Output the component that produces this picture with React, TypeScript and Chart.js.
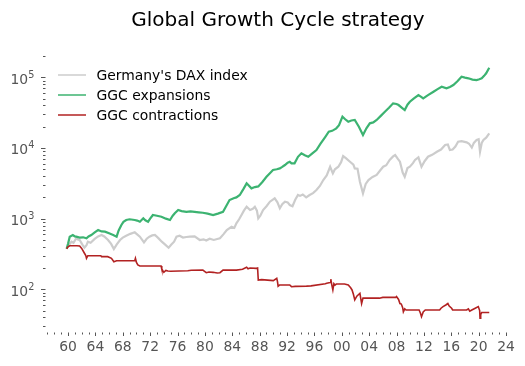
import React, { useEffect, useRef } from 'react';
import { Chart, registerables } from 'chart.js';

Chart.register(...registerables);

const TITLE = 'Global Growth Cycle strategy';
const SERIES_NAMES = ["Germany's DAX index", 'GGC expansions', 'GGC contractions'];
const SERIES_COLORS = ['#cccccc', '#3cb371', '#b22222'];

const X_MIN = 1956.71;
const X_MAX = 2024.64;
const Y_MIN = 24.5;
const Y_MAX = 2.07e5;

const X_LABEL_YEARS = [1960, 1964, 1968, 1972, 1976, 1980, 1984, 1988, 1992, 1996, 2000, 2004, 2008, 2012, 2016, 2020, 2024];
const X_LABELS = ['60', '64', '68', '72', '76', '80', '84', '88', '92', '96', '00', '04', '08', '12', '16', '20', '24'];
const Y_LABEL_VALUES = [100, 1000, 10000, 100000];
const Y_LABEL_EXPS = ['2', '3', '4', '5'];

const daxYears = [
  1959.8, 1960.1, 1960.5, 1960.8, 1961.2, 1961.5, 1961.7, 1962.1, 1962.4, 1962.7, 1962.9, 1963.3, 1963.9, 1964.4, 1964.9,
  1965.3, 1965.85, 1966.3, 1966.7, 1967.1, 1967.6, 1968.0, 1968.5, 1969.1, 1969.75, 1970.1, 1970.5, 1971.1, 1971.5, 1971.9,
  1972.3, 1972.7, 1973.2, 1973.7, 1974.2, 1974.7, 1975.1, 1975.5, 1975.85, 1976.3, 1976.8, 1977.3, 1977.8, 1978.5, 1979.25,
  1979.8, 1980.2, 1980.7, 1981.3, 1981.8, 1982.2, 1982.7, 1983.2, 1983.9, 1984.3, 1984.6, 1985.0, 1985.35, 1985.7, 1986.1,
  1986.6, 1987.0, 1987.3, 1987.6, 1987.8, 1988.1, 1988.5, 1989.0, 1989.5, 1990.2, 1990.6, 1990.95, 1991.3, 1991.7, 1992.1,
  1992.4, 1992.8, 1993.2, 1993.6, 1993.9, 1994.3, 1994.8, 1995.3, 1995.8, 1996.3, 1996.8, 1997.3, 1997.8, 1998.3, 1998.7,
  1999.0, 1999.5, 1999.9, 2000.2, 2000.6, 2001.2, 2001.7, 2001.9, 2002.3, 2002.65, 2003.1, 2003.5, 2003.9, 2004.5, 2005.1,
  2005.6, 2006.05, 2006.5, 2007.0, 2007.5, 2007.8, 2008.2, 2008.5, 2008.9, 2009.2, 2009.6, 2009.95, 2010.4, 2010.7, 2011.2,
  2011.65, 2012.1, 2012.6, 2013.2, 2013.9, 2014.5, 2015.1, 2015.5, 2015.8, 2016.2, 2016.6, 2017.0, 2017.5, 2018.25, 2018.6,
  2019.0, 2019.3, 2019.7, 2020.0, 2020.2, 2020.45, 2020.7, 2021.1, 2021.55,
];
const daxValues = [
  375, 420, 472, 455, 527, 505, 499, 430, 388, 420, 472, 455, 516, 560, 587,
  560, 499, 440, 372, 430, 499, 540, 574, 610, 641, 600, 556, 462, 520, 556,
  580, 587, 530, 472, 430, 388, 430, 472, 556, 574, 540, 550, 556, 560, 499,
  510, 490, 520, 500, 515, 527, 600, 690, 769, 740, 859, 980, 1127, 1300, 1476,
  1324, 1380, 1476, 1300, 1011, 1100, 1324, 1500, 1738, 1941, 1700, 1400, 1600, 1738, 1700,
  1560, 1500, 1850, 2163, 2100, 2200, 2000, 2163, 2300, 2541, 2900, 3524, 4100, 5433, 4385,
  5000, 5433, 6300, 7695, 7200, 6397, 5800, 5150, 5100, 3334, 2280, 3100, 3524, 3900, 4150,
  4800, 5433, 5700, 6761, 7600, 7943, 7000, 6397, 4500, 3920, 5200, 5433, 6100, 6761, 7380,
  5433, 6500, 7520, 8000, 8851, 9500, 11020, 11200, 9360, 9500, 10500, 12270, 12500, 12030, 11500,
  10120, 11800, 12970, 13300, 8851, 11800, 12970, 14000, 16140,
];

const expYears = [
  1959.8, 1960.0, 1960.25, 1960.7, 1961.0, 1961.2, 1961.7, 1962.2, 1962.7, 1963.0, 1963.4, 1963.9, 1964.4, 1964.9, 1965.4,
  1966.0, 1966.6, 1967.1, 1967.4, 1967.8, 1968.1, 1968.5, 1969.0, 1969.75, 1970.1, 1970.5, 1971.0, 1971.3, 1971.7, 1972.0,
  1972.4, 1973.0, 1973.65, 1974.3, 1974.9, 1975.3, 1975.6, 1976.1, 1976.6, 1977.3, 1977.9, 1978.5, 1979.1, 1979.7, 1980.4,
  1981.2, 1981.9, 1982.65, 1983.1, 1983.6, 1984.2, 1984.6, 1985.1, 1985.6, 1986.1, 1986.8, 1987.3, 1987.8, 1988.4, 1989.0,
  1989.5, 1989.95, 1990.5, 1990.95, 1991.3, 1991.7, 1992.1, 1992.4, 1992.65, 1993.1, 1993.6, 1994.1, 1994.6, 1995.1, 1995.7,
  1996.3, 1996.9, 1997.6, 1998.1, 1998.6, 1999.2, 1999.6, 2000.1, 2000.5, 2000.95, 2001.4, 2001.9, 2002.5, 2003.1, 2003.6,
  2004.1, 2004.6, 2005.1, 2005.7, 2006.3, 2006.9, 2007.5, 2008.0, 2008.3, 2008.8, 2009.2, 2009.6, 2009.95, 2010.5, 2011.2,
  2011.6, 2011.9, 2012.6, 2013.4, 2014.0, 2014.6, 2015.3, 2015.8, 2016.3, 2016.9, 2017.5, 2018.0, 2018.5, 2019.1, 2019.7,
  2020.1, 2020.45, 2020.8, 2021.1, 2021.55,
];
const expValues = [
  375, 440, 556, 587, 560, 556, 540, 545, 527, 560, 587, 640, 690, 660, 654,
  620, 587, 556, 680, 813, 900, 957, 980, 957, 940, 906, 1011, 950, 906, 1000,
  1127, 1100, 1066, 1000, 957, 1100, 1191, 1324, 1280, 1250, 1270, 1250, 1230, 1213, 1180,
  1127, 1180, 1250, 1500, 1837, 1950, 2000, 2163, 2600, 3162, 2685, 2800, 2857, 3300, 3920,
  4400, 4875, 5000, 5150, 5400, 5741, 6200, 6397, 6067, 6067, 7500, 8414, 7900, 7520, 8400,
  9360, 11500, 14420, 16980, 17500, 18970, 21000, 27730, 25500, 23550, 24500, 24890, 20000, 15270, 19000,
  22340, 23000, 24890, 28500, 32610, 37000, 42850, 42000, 40550, 37000, 34440, 41000, 45190, 50000, 56230,
  53000, 50470, 56000, 62520, 68000, 73620, 69850, 73000, 77830, 88000, 101900, 99000, 96830, 93000, 91620,
  94000, 96830, 105000, 114000, 136800,
];

const conYears = [
  1959.8, 1960.0, 1960.25, 1961.3, 1961.7, 1962.0, 1962.4, 1962.6, 1962.7, 1962.9, 1964.8, 1964.9, 1965.8, 1966.35, 1966.7,
  1967.1, 1969.75, 1969.85, 1970.0, 1970.2, 1970.5, 1973.6, 1973.7, 1974.0, 1974.3, 1974.6, 1975.0, 1977.5, 1978.0, 1979.7,
  1980.0, 1980.2, 1980.6, 1981.2, 1981.8, 1982.2, 1982.65, 1984.6, 1985.5, 1986.1, 1986.3, 1986.6, 1987.5, 1987.7, 1987.8,
  1988.3, 1990.0, 1990.5, 1990.6, 1990.7, 1990.9, 1992.4, 1992.65, 1993.2, 1994.85, 1995.5, 1997.6, 1997.8, 1998.3, 1998.4,
  1998.55, 1998.7, 1998.85, 1999.0, 1999.2, 2000.4, 2000.95, 2001.3, 2001.5, 2001.7, 2001.9, 2002.2, 2002.65, 2002.9, 2003.1,
  2005.5, 2006.0, 2007.9, 2008.0, 2008.3, 2008.5, 2008.7, 2008.9, 2009.0, 2009.2, 2009.4, 2011.3, 2011.5, 2011.65, 2011.9,
  2012.2, 2014.3, 2014.5, 2014.8, 2015.2, 2015.5, 2015.7, 2016.05, 2016.2, 2018.25, 2018.5, 2018.7, 2019.0, 2019.5, 2019.95,
  2020.15, 2020.2, 2020.3, 2020.45, 2021.55,
];
const conValues = [
  375, 400, 414, 414, 410, 380, 324, 300, 275, 299, 299, 290, 290, 275, 246,
  254, 254, 275, 240, 221, 214, 214, 194, 174, 185, 182, 180, 183, 186, 187,
  178, 172, 176, 174, 170, 172, 187, 187, 192, 205, 195, 200, 198, 200, 135,
  137, 133, 143, 130, 111, 115, 115, 109, 110, 111, 112, 120, 122, 125, 139,
  115, 98, 120, 115, 119, 119, 115, 105, 98, 85, 71, 80, 88, 63, 75,
  75, 77, 77, 79, 72, 63, 62, 55, 48, 53, 51, 51, 46, 41, 48,
  51, 51, 54, 57, 60, 63, 58, 54, 51, 51, 53, 49, 51, 54, 57,
  50, 39, 44, 47, 47,
];

const toPoints = (xs: number[], ys: number[]) => xs.map((x, i) => ({ x, y: ys[i] }));

const FONT = '"DejaVu Sans", sans-serif';
const TICK_COLOR = '#555555';

const decorPlugin = {
  id: 'decor',
  afterDraw(chart: any) {
    const { ctx, chartArea } = chart;
    const xs = chart.scales.x;
    const ys = chart.scales.y;
    ctx.save();

    // title
    ctx.fillStyle = '#000000';
    ctx.font = `20px ${FONT}`;
    ctx.textAlign = 'center';
    ctx.textBaseline = 'alphabetic';
    ctx.fillText(TITLE, (chartArea.left + chartArea.right) / 2, 25.5);

    // x tick marks
    ctx.strokeStyle = TICK_COLOR;
    ctx.lineWidth = 1;
    for (let yr = Math.ceil(X_MIN); yr <= Math.floor(X_MAX); yr++) {
      const px = Math.round(xs.getPixelForValue(yr)) + 0.5;
      const len = X_LABEL_YEARS.includes(yr) ? 3.5 : 2;
      ctx.beginPath();
      ctx.moveTo(px, chartArea.bottom);
      ctx.lineTo(px, chartArea.bottom + len);
      ctx.stroke();
    }

    // y tick marks
    for (let k = 1; k <= 5; k++) {
      for (let m = 1; m <= 9; m++) {
        const v = m * Math.pow(10, k);
        if (v < Y_MIN || v > Y_MAX) continue;
        const py = Math.round(ys.getPixelForValue(v)) + 0.5;
        const len = m === 1 ? 4.5 : 2.5;
        ctx.beginPath();
        ctx.moveTo(chartArea.left - len, py);
        ctx.lineTo(chartArea.left, py);
        ctx.stroke();
      }
    }

    // y labels with superscript exponent
    ctx.fillStyle = TICK_COLOR;
    ctx.textAlign = 'left';
    ctx.textBaseline = 'alphabetic';
    const right = 34.3;
    Y_LABEL_VALUES.forEach((v, i) => {
      const py = ys.getPixelForValue(v);
      ctx.font = `9.7px ${FONT}`;
      const w2 = ctx.measureText(Y_LABEL_EXPS[i]).width;
      ctx.font = `13.9px ${FONT}`;
      const w1 = ctx.measureText('10').width;
      ctx.fillText('10', right - w2 - w1, py + 6.5);
      ctx.font = `9.7px ${FONT}`;
      ctx.fillText(Y_LABEL_EXPS[i], right - w2, py + 0.5);
    });

    // legend
    ctx.font = `13.9px ${FONT}`;
    ctx.textAlign = 'left';
    ctx.textBaseline = 'alphabetic';
    SERIES_NAMES.forEach((name, i) => {
      const ly = 75 + i * 20;
      ctx.strokeStyle = SERIES_COLORS[i];
      ctx.lineWidth = 1.5;
      ctx.beginPath();
      ctx.moveTo(58, ly);
      ctx.lineTo(86, ly);
      ctx.stroke();
      ctx.fillStyle = '#000000';
      ctx.fillText(name, 96.5, ly + 5);
    });

    ctx.restore();
  },
};

export default function App() {
  const canvasRef = useRef<HTMLCanvasElement | null>(null);

  useEffect(() => {
    const canvas = canvasRef.current;
    if (!canvas) return;
    const chart = new Chart(canvas, {
      type: 'line',
      data: {
        datasets: [
          {
            label: SERIES_NAMES[0],
            data: toPoints(daxYears, daxValues),
            borderColor: SERIES_COLORS[0],
            borderWidth: 2.2,
            pointRadius: 0,
            tension: 0,
            order: 3,
          },
          {
            label: SERIES_NAMES[1],
            data: toPoints(expYears, expValues),
            borderColor: SERIES_COLORS[1],
            borderWidth: 2.2,
            pointRadius: 0,
            tension: 0,
            order: 2,
          },
          {
            label: SERIES_NAMES[2],
            data: toPoints(conYears, conValues),
            borderColor: SERIES_COLORS[2],
            borderWidth: 1.6,
            pointRadius: 0,
            tension: 0,
            order: 1,
          },
        ],
      },
      options: {
        responsive: false,
        animation: false,
        devicePixelRatio: 1,
        layout: { padding: { top: 55, right: 14.6, left: 0, bottom: 0 } },
        plugins: {
          legend: { display: false },
          title: { display: false },
          tooltip: { enabled: false },
        },
        events: [],
        scales: {
          x: {
            type: 'linear',
            min: X_MIN,
            max: X_MAX,
            grid: { display: false, drawTicks: false },
            border: { display: false },
            afterBuildTicks: (scale: any) => {
              scale.ticks = X_LABEL_YEARS.map((v) => ({ value: v }));
            },
            afterFit: (scale: any) => {
              scale.height = 366 - 332.5;
            },
            ticks: {
              autoSkip: false,
              maxRotation: 0,
              minRotation: 0,
              padding: 7,
              color: TICK_COLOR,
              font: { family: FONT, size: 13.9 },
              callback: (value: any) => {
                const idx = X_LABEL_YEARS.indexOf(Number(value));
                return idx >= 0 ? X_LABELS[idx] : '';
              },
            },
          },
          y: {
            type: 'logarithmic',
            min: Y_MIN,
            max: Y_MAX,
            grid: { display: false, drawTicks: false },
            border: { display: false },
            ticks: { display: false },
            afterFit: (scale: any) => {
              scale.width = 45.5;
            },
          },
        },
      },
      plugins: [decorPlugin],
    } as any);
    return () => chart.destroy();
  }, []);

  return (
    <div style={{ position: 'absolute', left: 0, top: 0, width: 525, height: 366, background: '#ffffff' }}>
      <canvas ref={canvasRef} width={525} height={366} style={{ display: 'block' }} />
    </div>
  );
}
